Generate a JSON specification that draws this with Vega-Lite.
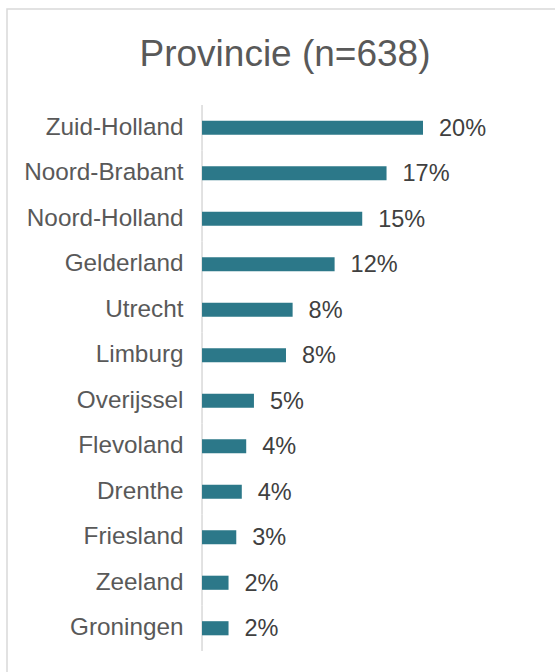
{
  "$schema": "https://vega.github.io/schema/vega-lite/v6.json",
  "autosize": {"type": "none"},
  "padding": {"left": 7, "top": 9, "right": 0, "bottom": 0},
  "width": 555,
  "height": 670,
  "background": "white",
  "view": {"stroke": "#D9D9D9", "strokeWidth": 1.5},
  "data": {
    "values": [
      {"provincie": "Zuid-Holland", "pct": 20.0, "label": "20%"},
      {"provincie": "Noord-Brabant", "pct": 16.7, "label": "17%"},
      {"provincie": "Noord-Holland", "pct": 14.5, "label": "15%"},
      {"provincie": "Gelderland", "pct": 12.0, "label": "12%"},
      {"provincie": "Utrecht", "pct": 8.2, "label": "8%"},
      {"provincie": "Limburg", "pct": 7.6, "label": "8%"},
      {"provincie": "Overijssel", "pct": 4.7, "label": "5%"},
      {"provincie": "Flevoland", "pct": 4.0, "label": "4%"},
      {"provincie": "Drenthe", "pct": 3.6, "label": "4%"},
      {"provincie": "Friesland", "pct": 3.1, "label": "3%"},
      {"provincie": "Zeeland", "pct": 2.4, "label": "2%"},
      {"provincie": "Groningen", "pct": 2.4, "label": "2%"}
    ]
  },
  "encoding": {
    "y": {
      "field": "provincie",
      "type": "nominal",
      "sort": null,
      "scale": {"paddingInner": 0, "paddingOuter": 0, "range": [96, 642]},
      "axis": {
        "title": null,
        "domain": false,
        "ticks": false,
        "offset": -195,
        "labelPadding": 19,
        "labelFont": "Liberation Sans",
        "labelFontSize": 24.3,
        "labelColor": "#595959",
        "grid": false
      }
    }
  },
  "layer": [
    {
      "mark": {"type": "rect", "stroke": "#D9D9D9", "strokeWidth": 1.5, "fill": null},
      "encoding": {
        "x": {
          "datum": 0,
          "type": "quantitative",
          "scale": {"domain": [-17.65, 32.58], "nice": false, "zero": false},
          "axis": {
            "orient": "top",
            "title": "Provincie (n=638)",
            "titleFont": "Liberation Sans",
            "titleFontSize": 37,
            "titleFontWeight": "normal",
            "titleColor": "#595959",
            "titleAnchor": "middle",
            "titleBaseline": "alphabetic",
            "titleY": 56,
            "domain": false,
            "ticks": false,
            "labels": false,
            "grid": false
          }
        },
        "x2": {"datum": 0}
      }
    },
    {
      "mark": {"type": "bar", "color": "#2C7889", "height": {"band": 0.31}},
      "encoding": {
        "x": {"field": "pct", "type": "quantitative"},
        "x2": {"datum": 0}
      }
    },
    {
      "mark": {
        "type": "text",
        "align": "left",
        "baseline": "middle",
        "dx": 16,
        "dy": 1,
        "font": "Liberation Sans",
        "fontSize": 23.5,
        "color": "#404040"
      },
      "encoding": {
        "x": {"field": "pct", "type": "quantitative"},
        "text": {"field": "label"}
      }
    }
  ]
}
